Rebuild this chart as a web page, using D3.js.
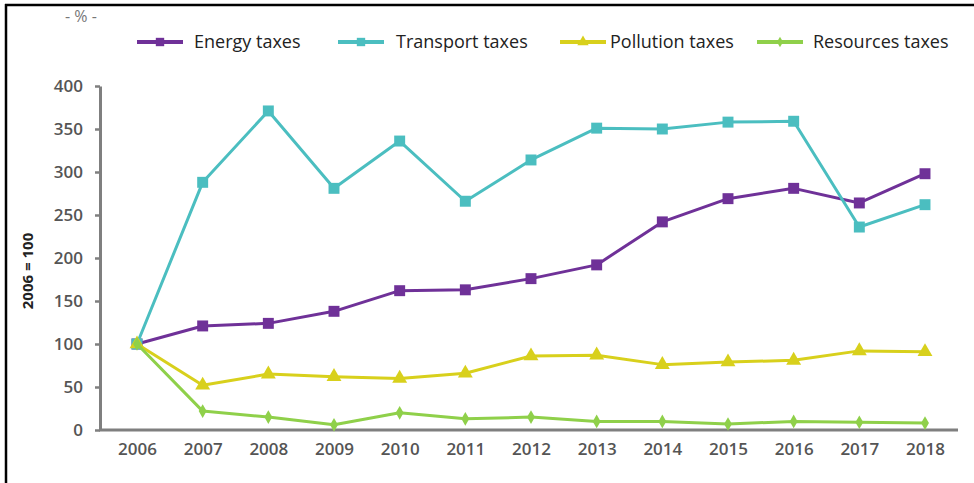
<!DOCTYPE html>
<html>
<head>
<meta charset="utf-8">
<script src="https://cdn.jsdelivr.net/npm/d3@7"></script>
<style>
  html, body { margin: 0; padding: 0; background: #fff; }
  svg { display: block; }
</style>
</head>
<body>
<svg id="chart" width="974" height="483"></svg>
<script>
// Environmental tax revenue indices, 2006 = 100
const years = ["2006","2007","2008","2009","2010","2011","2012","2013","2014","2015","2016","2017","2018"];
const energyTaxes    = [100, 121, 124, 138, 162, 163, 176, 192, 242, 269, 281, 264, 298];
const transportTaxes = [100, 288, 371, 281, 336, 266, 314, 351, 350, 358, 359, 236, 262];
const pollutionTaxes = [100, 52, 65, 62, 60, 66, 86, 87, 76, 79, 81, 92, 91];
const resourcesTaxes = [100, 22, 15, 6, 20, 13, 15, 10, 10, 7, 10, 9, 8];
const yTicks = [0, 50, 100, 150, 200, 250, 300, 350, 400];

const seriesList = [
  { name: "Energy taxes",    values: energyTaxes,    color: "#6f3198", marker: "square",   legendX: 137, textX: 194 },
  { name: "Transport taxes", values: transportTaxes, color: "#4bbec0", marker: "square",   legendX: 338, textX: 396 },
  { name: "Pollution taxes", values: pollutionTaxes, color: "#d8d01c", marker: "triangle", legendX: 560, textX: 610 },
  { name: "Resources taxes", values: resourcesTaxes, color: "#8fd04a", marker: "diamond",  legendX: 757, textX: 813 }
];

const svg = d3.select("#chart");
const font = "'Open Sans', 'DejaVu Sans', sans-serif";

// frame lines (left and top)
svg.append("line").attr("x1", 6).attr("x2", 6).attr("y1", 4).attr("y2", 483)
  .attr("stroke", "#000").attr("stroke-width", 2.5);
svg.append("line").attr("x1", 5).attr("x2", 974).attr("y1", 5).attr("y2", 5)
  .attr("stroke", "#000").attr("stroke-width", 2.5);

const x = d3.scalePoint().domain(years).range([137, 925]);
const y = d3.scaleLinear().domain([0, 400]).range([430, 86]);

const axisColor = "#7f7f7f";
const labelColor = "#555";

// y axis
const yAxis = svg.append("g").attr("transform", "translate(100,0)")
  .call(d3.axisLeft(y).tickValues(yTicks).tickSize(5).tickSizeOuter(0).tickPadding(12));
yAxis.select(".domain").attr("stroke", axisColor).attr("stroke-width", 3);
yAxis.selectAll(".tick line").attr("stroke", axisColor).attr("stroke-width", 2.5);
yAxis.selectAll(".tick text").attr("fill", labelColor).attr("font-family", font)
  .attr("font-size", 17).attr("font-weight", 600);

// x axis
const xAxis = svg.append("g").attr("transform", "translate(0,430)")
  .call(d3.axisBottom(x).tickSize(0).tickPadding(13));
xAxis.select(".domain").remove();
svg.append("line").attr("x1", 99).attr("x2", 958).attr("y1", 430).attr("y2", 430)
  .attr("stroke", axisColor).attr("stroke-width", 3);
xAxis.selectAll(".tick text").attr("fill", labelColor).attr("font-family", font)
  .attr("font-size", 17).attr("font-weight", 600);

// y axis title
svg.append("text")
  .attr("transform", "translate(33,271) rotate(-90)")
  .attr("text-anchor", "middle")
  .attr("font-family", font).attr("font-size", 15).attr("font-weight", 700)
  .attr("fill", "#222")
  .text("2006 = 100");

// unit label
svg.append("text")
  .attr("x", 65).attr("y", 22)
  .attr("font-family", font).attr("font-size", 16)
  .attr("fill", "#777")
  .text("- % -");

const symbolFor = (m, s) => {
  if (m === "square") return d3.symbol().type(d3.symbolSquare).size(s * 1.0)();
  if (m === "triangle") return d3.symbol().type(d3.symbolTriangle).size(s * 0.8)();
  return d3.symbol().type(d3.symbolDiamond).size(s * 0.45)();
};

const line = d3.line().x((d, i) => x(years[i])).y(d => y(d));

seriesList.forEach(s => {
  const g = svg.append("g");
  g.append("path").datum(s.values)
    .attr("d", line).attr("fill", "none")
    .attr("stroke", s.color).attr("stroke-width", 3).attr("stroke-linejoin", "round");
  g.selectAll("path.m").data(s.values).enter().append("path")
    .attr("class", "m")
    .attr("transform", (d, i) => `translate(${x(years[i])},${y(d)})`)
    .attr("d", symbolFor(s.marker, 120))
    .attr("fill", s.color);

  // legend entry
  const ly = 42;
  svg.append("line").attr("x1", s.legendX).attr("x2", s.legendX + 46)
    .attr("y1", ly).attr("y2", ly).attr("stroke", s.color).attr("stroke-width", 4);
  svg.append("path").attr("transform", `translate(${s.legendX + 23},${ly})`)
    .attr("d", symbolFor(s.marker, 70)).attr("fill", s.color);
  svg.append("text").attr("x", s.textX).attr("y", ly + 6)
    .attr("font-family", font).attr("font-size", 18).attr("fill", "#222")
    .text(s.name);
});
</script>
</body>
</html>
